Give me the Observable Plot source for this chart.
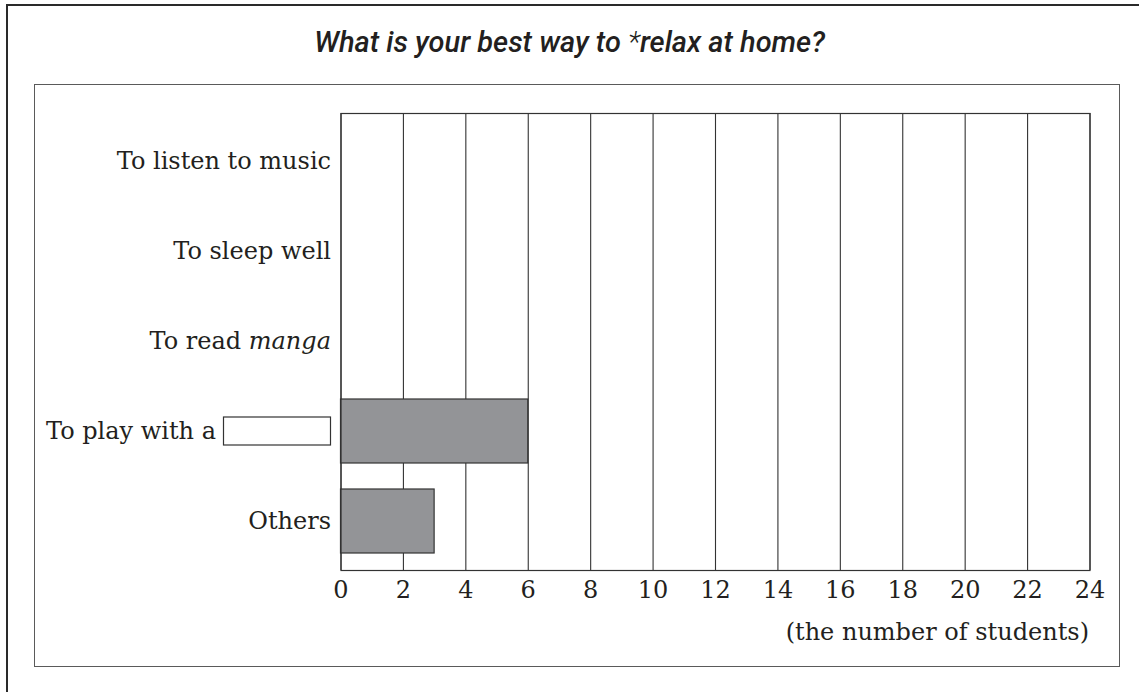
<!DOCTYPE html>
<html><head><meta charset="utf-8">
<script src="https://cdn.jsdelivr.net/npm/d3@7"></script>
<script src="https://cdn.jsdelivr.net/npm/@observablehq/plot@0.6"></script>
<style>
html,body{margin:0;padding:0;background:#fff;}
body{width:1139px;height:692px;overflow:hidden;position:relative;}
#chart{position:absolute;left:0;top:0;}
#outer{position:absolute;left:6px;top:4px;width:1200px;height:800px;border:2.5px solid #2a2a2a;box-sizing:border-box;}
#inner{position:absolute;left:33.5px;top:83.5px;width:1086px;height:583px;border:1.5px solid #5a5a5a;box-sizing:border-box;}
#title{position:absolute;left:0;top:27.6px;width:1139px;text-align:center;font-family:Roboto,"Liberation Sans",sans-serif;font-style:italic;font-weight:500;font-size:29px;line-height:29px;color:#231f20;white-space:nowrap;}
#title .ast{font-weight:300;}
</style>
</head>
<body>
<div id="chart"></div>
<div id="outer"></div>
<div id="inner"></div>
<div id="title"></div>
<script>
const titleBefore = "What is your best way to ";
const titleAst = "*";
const titleAfter = "relax at home?";
const categories = ["To listen to music", "To sleep well", "To read manga", "To play with a", "Others"];
const students = [null, null, null, 6, 3];
const xTicks = [0, 2, 4, 6, 8, 10, 12, 14, 16, 18, 20, 22, 24];
const xLabel = "(the number of students)";
const blankCategory = "To play with a";
const italicWord = {category: "To read manga", plain: "To read ", italic: "manga"};

const title = document.getElementById("title");
title.append(titleBefore);
const ast = document.createElement("span"); ast.className = "ast"; ast.textContent = titleAst;
title.append(ast, titleAfter);

const data = categories.map((c, i) => ({category: c, students: students[i]}));
const ink = "#231f20";
const line = "#333";

const chart = Plot.plot({
  width: 1139,
  height: 692,
  marginLeft: 340.5,
  marginRight: 49.5,
  marginTop: 113,
  marginBottom: 122,
  style: {background: "transparent", fontFamily: "'DejaVu Serif', serif", fontSize: "24px", color: ink},
  x: {domain: [0, 24]},
  y: {domain: categories, paddingInner: 0.286, paddingOuter: 0.154},
  marks: [
    Plot.gridX(xTicks, {stroke: line, strokeOpacity: 1, strokeWidth: 1.1}),
    Plot.barX(data, {x: "students", y: "category", fill: "#939497", stroke: line, strokeWidth: 1.2}),
    Plot.frame({stroke: line, strokeWidth: 1.2}),
    Plot.axisX({ticks: xTicks, tickSize: 0, tickPadding: 10, fontSize: 24, label: null, fill: ink}),
    Plot.axisY({tickSize: 0, tickPadding: 10, fontSize: 24, label: null, fill: ink}),
    Plot.text([xLabel], {text: d => d, frameAnchor: "bottom-right", textAnchor: "end", lineAnchor: "middle", dy: 62, dx: -1, fontSize: 24, fill: ink})
  ]
});
document.getElementById("chart").append(chart);

// decorate labels
const svg = d3.select(chart);
const boxW = 107, boxH = 28, gap = 8, pad = 10;
svg.selectAll("text").each(function() {
  const t = this.textContent;
  if (t === italicWord.category) {
    this.textContent = "";
    const s = d3.select(this);
    s.append("tspan").text(italicWord.plain);
    s.append("tspan").attr("font-style", "italic").text(italicWord.italic);
  }
  if (t === blankCategory) {
    const tr = this.getAttribute("transform") || "";
    this.setAttribute("transform", `translate(${-(boxW + gap)},0) ` + tr);
  }
});
const ys = chart.scale("y");
const cy = ys.apply(blankCategory) + ys.bandwidth / 2;
const xs = chart.scale("x");
const right = xs.apply(0) - pad;
svg.append("rect")
  .attr("x", right - boxW).attr("y", cy - boxH / 2)
  .attr("width", boxW).attr("height", boxH)
  .attr("fill", "white").attr("stroke", line).attr("stroke-width", 1.2);
</script>
</body></html>
